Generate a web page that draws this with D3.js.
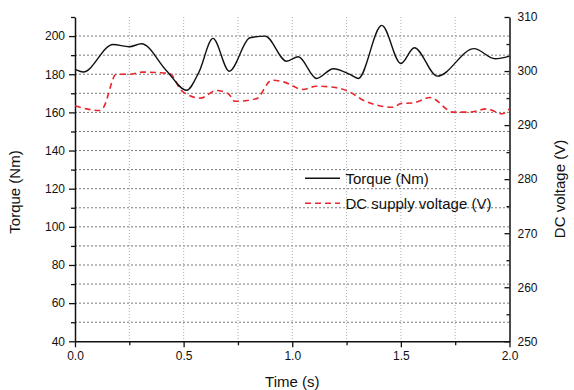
<!DOCTYPE html>
<html>
<head>
<meta charset="utf-8">
<script src="https://cdn.jsdelivr.net/npm/d3@7"></script>
<style>
  html, body { margin: 0; padding: 0; background: #fff; }
  svg { display: block; }
  text { font-family: Arial, "Liberation Sans", sans-serif; fill: #111; }
</style>
</head>
<body>
<svg id="chart" width="574" height="390"></svg>
<script>
// Time samples (s) and measured torque (Nm)
const torqueTime = [0, 0.038, 0.175, 0.25, 0.306, 0.42, 0.514, 0.57, 0.635, 0.71, 0.805, 0.875, 0.974, 1.028, 1.112, 1.189, 1.266, 1.304, 1.412, 1.5, 1.562, 1.668, 1.837, 1.934, 2.0];
const torqueValues = [182.5, 181.2, 195.6, 194.4, 196, 182, 171.6, 181, 198.8, 181.6, 199.1, 200, 186.8, 189.2, 177.8, 182.9, 179.9, 177.8, 205.6, 185.6, 193.9, 179, 193.4, 188.1, 189.5];

// Time samples (s) and DC supply voltage (V)
const voltageTime = [0, 0.054, 0.115, 0.13, 0.19, 0.25, 0.313, 0.39, 0.437, 0.49, 0.576, 0.652, 0.706, 0.736, 0.836, 0.905, 0.959, 1.05, 1.11, 1.19, 1.266, 1.327, 1.465, 1.5, 1.557, 1.634, 1.741, 1.818, 1.895, 1.965, 2.0];
const voltageValues = [293.6, 293.0, 292.7, 293.2, 299.4, 299.4, 299.8, 299.7, 299.5, 296.4, 295.0, 296.4, 295.8, 294.4, 294.9, 298.3, 298.0, 296.6, 297.2, 297.0, 296.1, 294.6, 293.3, 294.0, 294.1, 295.1, 292.4, 292.4, 293.0, 292.1, 293.0];

// Axis ticks
const xMajorTicks = [0, 0.5, 1.0, 1.5, 2.0];
const xMinorTicks = [0.25, 0.75, 1.25, 1.75];
const torqueMajorTicks = [40, 60, 80, 100, 120, 140, 160, 180, 200];
const torqueMinorTicks = [50, 70, 90, 110, 130, 150, 170, 190, 210];
const voltageMajorTicks = [250, 260, 270, 280, 290, 300, 310];
const voltageMinorTicks = [255, 265, 275, 285, 295, 305];

const legendLabels = ["Torque (Nm)", "DC supply voltage (V)"];

const svg = d3.select("#chart");
const plotLeft = 75, plotRight = 509.5, plotTop = 17, plotBottom = 341.3;

const x = d3.scaleLinear().domain([0, 2]).range([plotLeft, plotRight]);
const yT = d3.scaleLinear().domain([40, 210]).range([plotBottom, plotTop]);
const yV = d3.scaleLinear().domain([250, 310]).range([plotBottom, plotTop]);

// Grid
const grid = svg.append("g");
grid.selectAll("line.h")
  .data(d3.range(50, 201, 10))
  .join("line")
  .attr("class", "h")
  .attr("x1", plotLeft).attr("x2", plotRight)
  .attr("y1", d => yT(d)).attr("y2", d => yT(d))
  .attr("stroke", "#555").attr("stroke-width", 0.8)
  .attr("stroke-dasharray", "2,2");
grid.selectAll("line.v")
  .data([0.25, 0.5, 0.75, 1.0, 1.25, 1.5, 1.75])
  .join("line")
  .attr("class", "v")
  .attr("x1", d => x(d)).attr("x2", d => x(d))
  .attr("y1", plotTop).attr("y2", plotBottom)
  .attr("stroke", "#999").attr("stroke-width", 0.8)
  .attr("stroke-dasharray", "1,2");

// Axes
function styleAxis(g) {
  g.selectAll("path.domain").attr("stroke", "#111").attr("stroke-width", 1.5);
  g.selectAll(".tick line").attr("stroke", "#111").attr("stroke-width", 1.3);
  g.selectAll(".tick text").style("font-size", "12px").attr("fill", "#222")
    .style("font-family", "Arial, 'Liberation Sans', sans-serif");
}

const xAxis = svg.append("g").attr("transform", `translate(0,${plotBottom})`)
  .call(d3.axisBottom(x).tickValues(xMajorTicks).tickFormat(d3.format(".1f")).tickSize(6).tickSizeOuter(0).tickPadding(4));
styleAxis(xAxis);
svg.append("g").attr("transform", `translate(0,${plotBottom})`)
  .call(d3.axisBottom(x).tickValues(xMinorTicks).tickFormat("").tickSize(4).tickSizeOuter(0))
  .call(g => g.select("path.domain").remove()).call(styleAxis);

const yAxisL = svg.append("g").attr("transform", `translate(${plotLeft},0)`)
  .call(d3.axisLeft(yT).tickValues(torqueMajorTicks).tickSize(6).tickSizeOuter(0).tickPadding(4));
styleAxis(yAxisL);
svg.append("g").attr("transform", `translate(${plotLeft},0)`)
  .call(d3.axisLeft(yT).tickValues(torqueMinorTicks).tickFormat("").tickSize(4).tickSizeOuter(0))
  .call(g => g.select("path.domain").remove()).call(styleAxis);

const yAxisR = svg.append("g").attr("transform", `translate(${plotRight},0)`)
  .call(d3.axisRight(yV).tickValues(voltageMajorTicks).tickSize(-5).tickSizeOuter(0).tickPadding(8));
styleAxis(yAxisR);
svg.append("g").attr("transform", `translate(${plotRight},0)`)
  .call(d3.axisRight(yV).tickValues(voltageMinorTicks).tickFormat("").tickSize(-3).tickSizeOuter(0))
  .call(g => g.select("path.domain").remove()).call(styleAxis);

// Axis titles
svg.append("text").attr("x", (plotLeft + plotRight) / 2).attr("y", 387)
  .attr("text-anchor", "middle").style("font-size", "15px").text("Time (s)");
svg.append("text").attr("transform", "translate(20,192) rotate(-90)")
  .attr("text-anchor", "middle").style("font-size", "15px").text("Torque (Nm)");
svg.append("text").attr("transform", "translate(565,189) rotate(-90)")
  .attr("text-anchor", "middle").style("font-size", "15px").text("DC voltage (V)");

// Series
const torqueLine = d3.line().x(d => x(d[0])).y(d => yT(d[1])).curve(d3.curveMonotoneX);
const voltageLine = d3.line().x(d => x(d[0])).y(d => yV(d[1])).curve(d3.curveMonotoneX);

svg.append("path")
  .datum(d3.zip(voltageTime, voltageValues))
  .attr("d", voltageLine)
  .attr("fill", "none").attr("stroke", "#e8262d").attr("stroke-width", 1.6)
  .attr("stroke-dasharray", "6,4");

svg.append("path")
  .datum(d3.zip(torqueTime, torqueValues))
  .attr("d", torqueLine)
  .attr("fill", "none").attr("stroke", "#111").attr("stroke-width", 1.4);

// Legend
const legend = svg.append("g");
legend.append("line").attr("x1", 305).attr("x2", 340).attr("y1", 178.3).attr("y2", 178.3)
  .attr("stroke", "#111").attr("stroke-width", 1.4);
legend.append("line").attr("x1", 305).attr("x2", 340).attr("y1", 203.3).attr("y2", 203.3)
  .attr("stroke", "#e8262d").attr("stroke-width", 1.6).attr("stroke-dasharray", "6,4");
legend.selectAll("text")
  .data(legendLabels)
  .join("text")
  .attr("x", 345.5).attr("y", (d, i) => 178.3 + i * 25)
  .attr("dy", "0.35em").style("font-size", "15px").text(d => d);
</script>
</body>
</html>
